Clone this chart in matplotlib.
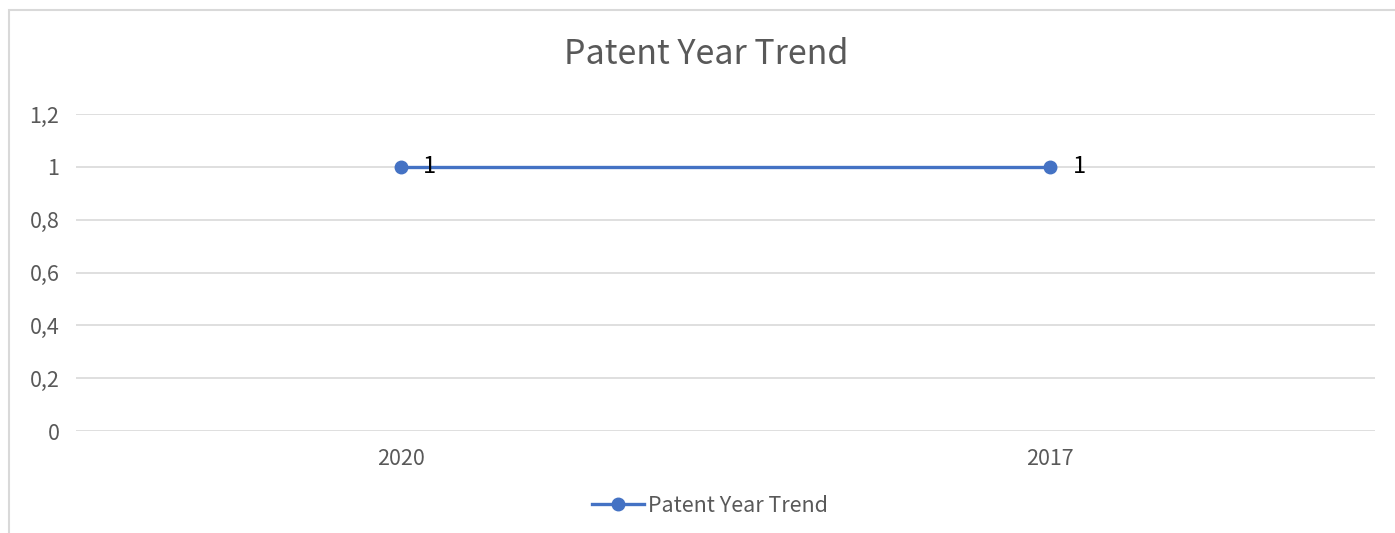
import matplotlib.pyplot as plt
from matplotlib.patches import Rectangle

plt.rcParams['font.family'] = ['Noto Sans CJK SC', 'DejaVu Sans']

# data
years = ['2020', '2017']
counts = [1, 1]
series_name = 'Patent Year Trend'
y_ticks = [0, 0.2, 0.4, 0.6, 0.8, 1.0, 1.2]
y_labels = ['0', '0,2', '0,4', '0,6', '0,8', '1', '1,2']

blue = '#4472C4'
grid_col = '#d9d9d9'
txt_col = '#595959'

fig = plt.figure(figsize=(13.95, 5.33), dpi=100)
W, H = 1395, 533

# chart area border (cropped screenshot)
fig.patches.append(Rectangle((9 / W, -0.1), 1.2, 1 - 10 / H + 0.1,
                             transform=fig.transFigure, fill=False,
                             edgecolor=grid_col, linewidth=1.5))

ax = fig.add_axes([76 / W, 1 - 431 / H, (1375 - 76) / W, (431 - 114) / H])
x = list(range(len(years)))
ax.plot(x, counts, color=blue, linewidth=2.4, marker='o', markersize=9,
        label=series_name, zorder=3)
for xi, v in zip(x, counts):
    ax.annotate(str(v), (xi, v), xytext=(16, 0), textcoords='offset points',
                ha='left', va='center', fontsize=17, color='black')

ax.set_xlim(-0.5, len(years) - 0.5)
ax.set_ylim(0, 1.2)
ax.set_xticks(x)
ax.set_xticklabels(years)
ax.set_yticks(y_ticks)
ax.set_yticklabels(y_labels)
ax.tick_params(length=0, labelsize=15.5, labelcolor=txt_col, pad=12)
ax.tick_params(axis='x', pad=12)
ax.grid(axis='y', color=grid_col, linewidth=1.2)
ax.set_axisbelow(True)
for s in ax.spines.values():
    s.set_visible(False)

fig.text(706 / W, 1 - 55 / H, series_name, ha='center', va='center',
         fontsize=24.5, color=txt_col)

fig.legend(loc='center', bbox_to_anchor=(710 / W, 1 - 506 / H), frameon=False,
           fontsize=15.5, labelcolor=txt_col, handlelength=2.4, handletextpad=0.2)

fig.savefig('out.png', dpi=100)
